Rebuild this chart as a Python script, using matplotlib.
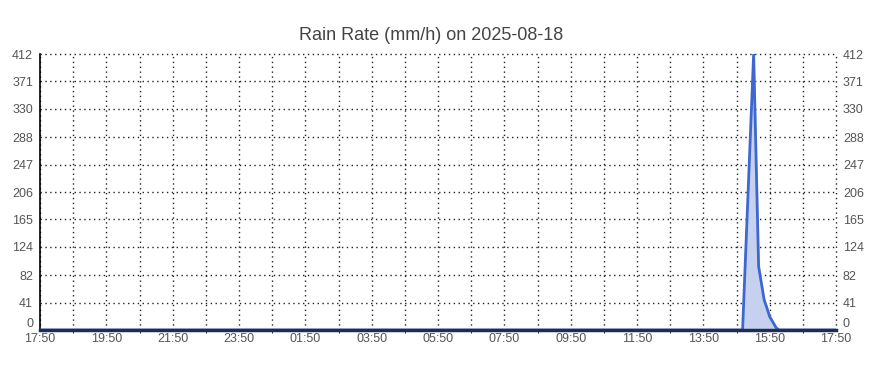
#!/usr/bin/env python3
import numpy as np
import matplotlib
matplotlib.use('Agg')
import matplotlib.pyplot as plt
# .................................................. data
start_label='17:50'
times=['17:50','15:01','15:21','15:30','15:40','15:45','15:50','16:02','16:07','17:50']
rain=[0,0,412,95,45,33,20,3,0,0]
ytick_vals=[0,41,82,124,165,206,247,288,330,371,412]
xtick_labels=['17:50','19:50','21:50','23:50','01:50','03:50','05:50',
              '07:50','09:50','11:50','13:50','15:50','17:50']
# .................................................. helpers
def hours_from_start(t,first):
  h,m=map(int,t.split(':'))
  h0,m0=map(int,start_label.split(':'))
  d=(h*60+m)-(h0*60+m0)
  if d<0 or (d==0 and not first):
    d+=24*60
  return d/60.0
xs=[hours_from_start(t,i==0) for i,t in enumerate(times)]
# .................................................. plot
plt.rcParams['font.family']=['Liberation Sans','DejaVu Sans']
fig=plt.figure(figsize=(8.8,3.66),dpi=100)
ax=fig.add_axes([40/880,1-330/366,796/880,276/366])
ax.fill_between(xs,rain,0,color='#c6d1ef',zorder=2)
ax.plot(xs,rain,color='#3f67d2',lw=2,zorder=3)
ax.set_xlim(0,24)
ax.set_ylim(0,412)
ax.set_xticks(np.arange(0,25,2))
ax.set_xticks(np.arange(0,25,1),minor=True)
ax.set_xticklabels(xtick_labels)
ax.set_yticks(ytick_vals)
ax.tick_params(axis='both',length=0,labelsize=9,labelcolor='#555555')
ax.tick_params(axis='x',pad=2.5)
ax.tick_params(axis='y',pad=5)
ax.tick_params(labelright=True)
ax.grid(True,which='both',axis='x',color='#222222',lw=1,ls=(0,(1,2.5)),zorder=1)
ax.grid(True,which='major',axis='y',color='#222222',lw=1,ls=(0,(1,2.5)),zorder=1)
for t in ax.xaxis.get_major_ticks()+ax.xaxis.get_minor_ticks()+ax.yaxis.get_major_ticks():
  t.gridline.set_clip_on(False)
t0=ax.yaxis.get_major_ticks()[0]
t0.label1.set_va('bottom')
t0.label2.set_va('bottom')
for s in ['top','right']:
  ax.spines[s].set_visible(False)
ax.spines['left'].set_color('black')
ax.spines['left'].set_linewidth(1.2)
ax.spines['bottom'].set_color('#1f2d50')
ax.spines['bottom'].set_linewidth(2.5)
ax.spines['bottom'].set_zorder(4)
fig.text(0.49,1-36/366,'Rain Rate (mm/h) on 2025-08-18',ha='center',va='center',
         fontsize=13,color='#444444')
plt.savefig('out.png',dpi=100)
